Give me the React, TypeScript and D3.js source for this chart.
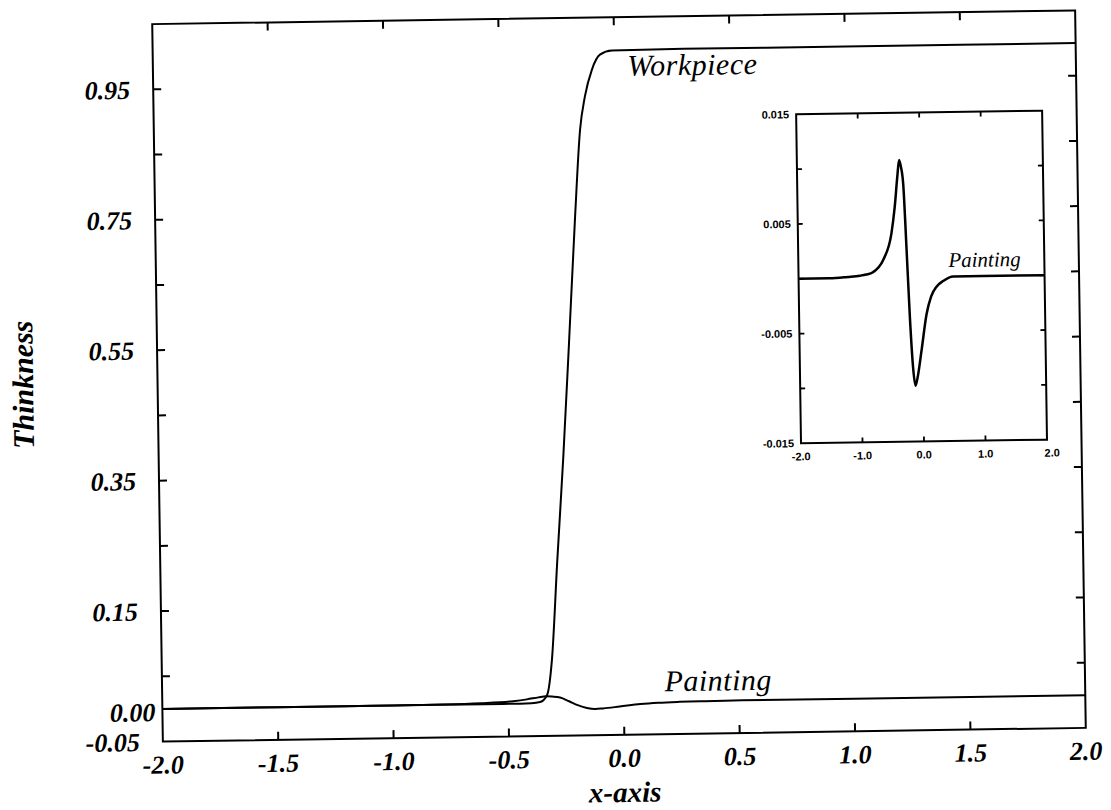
import * as d3 from "d3";
import React from "react";

// Values.
const workpieceX = [-2.0, -1.0, -0.6, -0.45, -0.4, -0.363, -0.332, -0.309, -0.28, -0.247, -0.215, -0.181, -0.153, -0.13, -0.098, -0.062, -0.01, 0.3, 1.0, 2.0];
const workpieceY = [0, 0, 0, 0, 0.0003, 0.002, 0.0127, 0.066, 0.215, 0.375, 0.549, 0.74, 0.878, 0.929, 0.97, 0.993, 0.999, 1.0, 1.0, 1.0];

const paintingX = [-2.0, -1.5, -1.2, -1.0, -0.9, -0.79, -0.62, -0.48, -0.42, -0.37, -0.337, -0.31, -0.276, -0.237, -0.2, -0.16, -0.124, -0.09, -0.018, 0.072, 0.15, 0.241, 0.35, 0.514, 1.0, 2.0];
const paintingY = [0, 0, 0.0001, 0.0002, 0.0003, 0.0005, 0.0016, 0.004, 0.0064, 0.0092, 0.0107, 0.0101, 0.0085, 0.0025, -0.0036, -0.0082, -0.0099, -0.0092, -0.0067, -0.0034, -0.0018, -0.0009, -0.0004, 0, 0, 0];

// Main axes
const mainXTicks = [-2.0, -1.5, -1.0, -0.5, 0.0, 0.5, 1.0, 1.5, 2.0];
const mainYLabels = [0.95, 0.75, 0.55, 0.35, 0.15, 0.0, -0.05];
const mainYTicks = [0.05, 0.15, 0.25, 0.35, 0.45, 0.55, 0.65, 0.75, 0.85, 0.95];

// Inset axes
const insetXLabels = [-2.0, -1.0, 0.0, 1.0, 2.0];
const insetXTicks = [-1.0, 0.0, 1.0];
const insetYLabels = [0.015, 0.005, -0.005, -0.015];
const insetYTicks = [-0.01, -0.005, 0, 0.005, 0.01];

const W = 1111;
const H = 810;

// Frame of the main plot
const main = { left: 157.5, right: 1080.5, top: 17.25, bottom: 734.75 };
// Frame of the inset
const inset = { left: 800, right: 1046, top: 117, bottom: 446 };

// The scan is tilted a little; reproduce that tilt
const tilt = -0.85;
const cx = (main.left + main.right) / 2;
const cy = (main.top + main.bottom) / 2;

const serif = "'Liberation Serif', 'Times New Roman', serif";
const sans = "'Liberation Sans', Arial, sans-serif";

export default function App() {
  const x = d3.scaleLinear().domain([-2, 2]).range([main.left, main.right]);
  const y = d3.scaleLinear().domain([-0.05, 1.05]).range([main.bottom, main.top]);

  const ix = d3.scaleLinear().domain([-2, 2]).range([inset.left, inset.right]);
  const iy = d3.scaleLinear().domain([-0.015, 0.015]).range([inset.bottom, inset.top]);

  const workpiece = workpieceX.map((v, i) => [v, workpieceY[i]] as [number, number]);
  const painting = paintingX.map((v, i) => [v, paintingY[i]] as [number, number]);

  const mainLine = d3
    .line<[number, number]>()
    .x((d) => x(d[0]))
    .y((d) => y(d[1]))
    .curve(d3.curveMonotoneX);

  const insetLine = d3
    .line<[number, number]>()
    .x((d) => ix(d[0]))
    .y((d) => iy(d[1]))
    .curve(d3.curveMonotoneX);

  const tickLen = 8;
  const iTickLen = 5;

  return (
    <svg
      width={W}
      height={H}
      style={{ position: "absolute", left: 0, top: 0, background: "#fff" }}
    >
      <g transform={`rotate(${tilt}, ${cx}, ${cy})`} stroke="#000" fill="none">
        {/* main frame */}
        <rect
          x={main.left}
          y={main.top}
          width={main.right - main.left}
          height={main.bottom - main.top}
          strokeWidth={2}
        />

        {/* x ticks, bottom and top, pointing inward */}
        {mainXTicks.slice(1, -1).map((t) => (
          <g key={`mx${t}`} strokeWidth={2}>
            <line x1={x(t)} x2={x(t)} y1={main.bottom} y2={main.bottom - tickLen} />
            <line x1={x(t)} x2={x(t)} y1={main.top} y2={main.top + tickLen} />
          </g>
        ))}

        {/* y ticks, left and right */}
        {mainYTicks.map((t) => (
          <g key={`my${t}`} strokeWidth={2}>
            <line x1={main.left} x2={main.left + tickLen} y1={y(t)} y2={y(t)} />
            <line x1={main.right} x2={main.right - tickLen} y1={y(t)} y2={y(t)} />
          </g>
        ))}

        {/* curves */}
        <path d={mainLine(workpiece) ?? ""} strokeWidth={2} />
        <path d={mainLine(painting) ?? ""} strokeWidth={2} />

        {/* tick labels */}
        <g stroke="none" fill="#000" fontFamily={serif} fontWeight="bold" fontStyle="italic" fontSize={26}>
          {mainXTicks.map((t) => (
            <text key={`mxl${t}`} x={x(t)} y={main.bottom + 32} textAnchor="middle">
              {t.toFixed(1)}
            </text>
          ))}
          {mainYLabels.map((t) => (
            <text
              key={`myl${t}`}
              x={t === 0 ? main.left - 7 : main.left - 23}
              y={y(t) + (t === 0 ? 3 : 0)}
              dy="0.35em"
              textAnchor="end"
            >
              {t.toFixed(2)}
            </text>
          ))}
        </g>

        {/* axis titles */}
        <g stroke="none" fill="#000" fontFamily={serif} fontWeight="bold" fontStyle="italic">
          <text x={cx} y={802} textAnchor="middle" fontSize={29}>
            x-axis
          </text>
          <text transform={`translate(33, ${cy}) rotate(-90)`} textAnchor="middle" fontSize={30}>
            Thinkness
          </text>
        </g>

        {/* curve labels */}
        <g stroke="none" fill="#000" fontFamily={serif} fontStyle="italic" fontSize={30} letterSpacing={0.5}>
          <text x={632} y={76}>Workpiece</text>
          <text x={660} y={692}>Painting</text>
        </g>

        {/* --- inset --- */}
        <rect
          x={inset.left}
          y={inset.top}
          width={inset.right - inset.left}
          height={inset.bottom - inset.top}
          fill="#fff"
          strokeWidth={2}
        />
        {insetXTicks.map((t) => (
          <g key={`ix${t}`} strokeWidth={1.8}>
            <line x1={ix(t)} x2={ix(t)} y1={inset.bottom} y2={inset.bottom - iTickLen} />
            <line x1={ix(t)} x2={ix(t)} y1={inset.top} y2={inset.top + iTickLen} />
          </g>
        ))}
        {insetYTicks.map((t) => (
          <g key={`iy${t}`} strokeWidth={1.8}>
            <line x1={inset.left} x2={inset.left + iTickLen} y1={iy(t)} y2={iy(t)} />
            <line x1={inset.right} x2={inset.right - iTickLen} y1={iy(t)} y2={iy(t)} />
          </g>
        ))}
        <path d={insetLine(painting) ?? ""} strokeWidth={2.5} />

        <g stroke="none" fill="#000" fontFamily={sans} fontWeight="bold" fontSize={11}>
          {insetXLabels.map((t) => (
            <text key={`ixl${t}`} x={ix(t) + (t === 2 ? 5 : 0)} y={inset.bottom + 17} textAnchor="middle">
              {t.toFixed(1)}
            </text>
          ))}
          {insetYLabels.map((t) => (
            <text key={`iyl${t}`} x={inset.left - 7} y={iy(t)} dy="0.35em" textAnchor="end">
              {t.toFixed(3)}
            </text>
          ))}
        </g>
        <text x={950} y={272} stroke="none" fill="#000" fontFamily={serif} fontStyle="italic" fontSize={21}>
          Painting
        </text>
      </g>
    </svg>
  );
}
